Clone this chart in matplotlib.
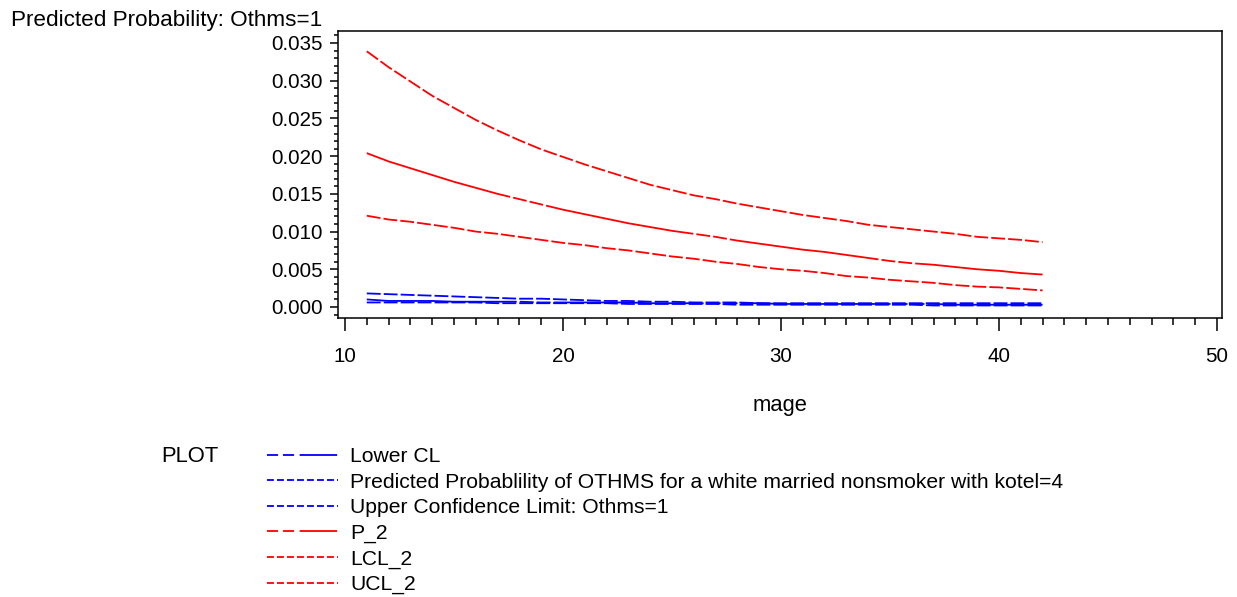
import matplotlib
matplotlib.use("Agg")
import matplotlib.pyplot as plt
from matplotlib.lines import Line2D
from matplotlib.ticker import MultipleLocator, FormatStrFormatter

plt.rcParams["font.family"] = ["Liberation Sans", "DejaVu Sans"]
plt.rcParams["lines.scale_dashes"] = False

# ── Data ──
mage = list(range(11, 43))

p_2 = [0.0204, 0.0193, 0.0184, 0.0175, 0.0166, 0.0158, 0.0150, 0.0143,
       0.0136, 0.0129, 0.0123, 0.0117, 0.0111, 0.0106, 0.0101, 0.0097,
       0.0093, 0.0088, 0.0084, 0.0080, 0.0076, 0.0073, 0.0069, 0.0065,
       0.0061, 0.0058, 0.0056, 0.0053, 0.0050, 0.0048, 0.0045, 0.0043]
lcl_2 = [0.0121, 0.0116, 0.0113, 0.0109, 0.0105, 0.0100, 0.0097, 0.0093,
         0.0089, 0.0085, 0.0082, 0.0078, 0.0075, 0.0071, 0.0067, 0.0064,
         0.0060, 0.0057, 0.0053, 0.0050, 0.0048, 0.0045, 0.0041, 0.0039,
         0.0036, 0.0034, 0.0032, 0.0029, 0.0027, 0.0026, 0.0024, 0.0022]
ucl_2 = [0.0339, 0.0318, 0.0299, 0.0280, 0.0264, 0.0248, 0.0234, 0.0221,
         0.0209, 0.0199, 0.0189, 0.0180, 0.0171, 0.0162, 0.0155, 0.0148,
         0.0143, 0.0137, 0.0132, 0.0127, 0.0122, 0.0118, 0.0114, 0.0109,
         0.0106, 0.0103, 0.0100, 0.0097, 0.0093, 0.0091, 0.0089, 0.0086]

blue_lower_cl = [0.0010, 0.0008, 0.0008, 0.0008, 0.0007, 0.0007, 0.0007, 0.0007,
                 0.0006, 0.0006, 0.0006, 0.0006, 0.0006, 0.0005, 0.0005, 0.0005,
                 0.0005, 0.0005, 0.0005, 0.0004, 0.0004, 0.0004, 0.0004, 0.0004,
                 0.0004, 0.0004, 0.0004, 0.0003, 0.0003, 0.0003, 0.0003, 0.0003]
blue_pred = [0.0006, 0.0006, 0.0006, 0.0006, 0.0006, 0.0006, 0.0005, 0.0005,
             0.0005, 0.0005, 0.0005, 0.0005, 0.0004, 0.0004, 0.0004, 0.0004,
             0.0004, 0.0003, 0.0003, 0.0003, 0.0003, 0.0003, 0.0003, 0.0003,
             0.0003, 0.0003, 0.0002, 0.0002, 0.0002, 0.0002, 0.0002, 0.0002]
blue_upper = [0.0018, 0.0017, 0.0016, 0.0015, 0.0014, 0.0013, 0.0012, 0.0011,
              0.0011, 0.0010, 0.0009, 0.0008, 0.0008, 0.0007, 0.0007, 0.0006,
              0.0006, 0.0006, 0.0005, 0.0005, 0.0005, 0.0005, 0.0005, 0.0005,
              0.0005, 0.0005, 0.0005, 0.0005, 0.0005, 0.0005, 0.0005, 0.0005]

labels = ["Lower CL",
          "Predicted Probablility of OTHMS for a white married nonsmoker with kotel=4",
          "Upper Confidence Limit: Othms=1",
          "P_2", "LCL_2", "UCL_2"]

BLUE = "#0000FF"
RED = "#FF0000"
FS_TICK = 14.8
FS_LEG = 15.2
FS_TEXT = 15.8

# dash patterns (points)
long_pat = (108, 2.2, 10, 2.2, 10, 2.2)
short_pat = (10, 2.2)
leg_long = (8, 3.5, 8, 4, 27, 1.5)
leg_short = (5, 2.2)

fig = plt.figure(figsize=(12.37, 5.97), dpi=100)
ax = fig.add_axes([338 / 1237, 1 - 318 / 597, (1222 - 338) / 1237, (318 - 31) / 597])

series = [
    (blue_lower_cl, BLUE, long_pat, leg_long),
    (blue_pred, BLUE, short_pat, leg_short),
    (blue_upper, BLUE, short_pat, leg_short),
    (p_2, RED, long_pat, leg_long),
    (lcl_2, RED, short_pat, leg_short),
    (ucl_2, RED, short_pat, leg_short),
]
handles = []
for vals, col, pat, lpat in series:
    ax.plot(mage, vals, color=col, lw=1.3, dashes=pat)
    handles.append(Line2D([], [], color=col, lw=1.3, dashes=lpat))

ax.set_xlim(9.68, 50.23)
ax.set_ylim(-0.00146, 0.03659)
ax.xaxis.set_major_locator(MultipleLocator(10))
ax.xaxis.set_minor_locator(MultipleLocator(1))
ax.yaxis.set_major_locator(MultipleLocator(0.005))
ax.yaxis.set_minor_locator(MultipleLocator(0.001))
ax.yaxis.set_major_formatter(FormatStrFormatter("%.3f"))
ax.tick_params(axis="both", which="both", direction="out", color="black",
               labelsize=FS_TICK, width=1.1)
ax.tick_params(axis="x", which="major", length=9, pad=12)
ax.tick_params(axis="x", which="minor", length=5)
ax.tick_params(axis="y", which="major", length=6, pad=5)
ax.tick_params(axis="y", which="minor", length=3)
for s in ax.spines.values():
    s.set_linewidth(1.1)

ax.set_xlabel("mage", fontsize=FS_TEXT, labelpad=21)

fig.text(11 / 1237, 1 - 26 / 597, "Predicted Probability: Othms=1",
         fontsize=16.2, ha="left", va="baseline")

fig.text(161 / 1237, 1 - 457 / 597, "PLOT", fontsize=FS_TEXT, ha="left", va="center")
fig.legend(handles, labels, loc="upper left",
           bbox_to_anchor=(267 / 1237, 1 - 447 / 597),
           frameon=False, fontsize=FS_LEG, handlelength=3.35, handletextpad=0.6,
           labelspacing=0.31, borderpad=0, borderaxespad=0)

fig.savefig("out.png", dpi=100)
